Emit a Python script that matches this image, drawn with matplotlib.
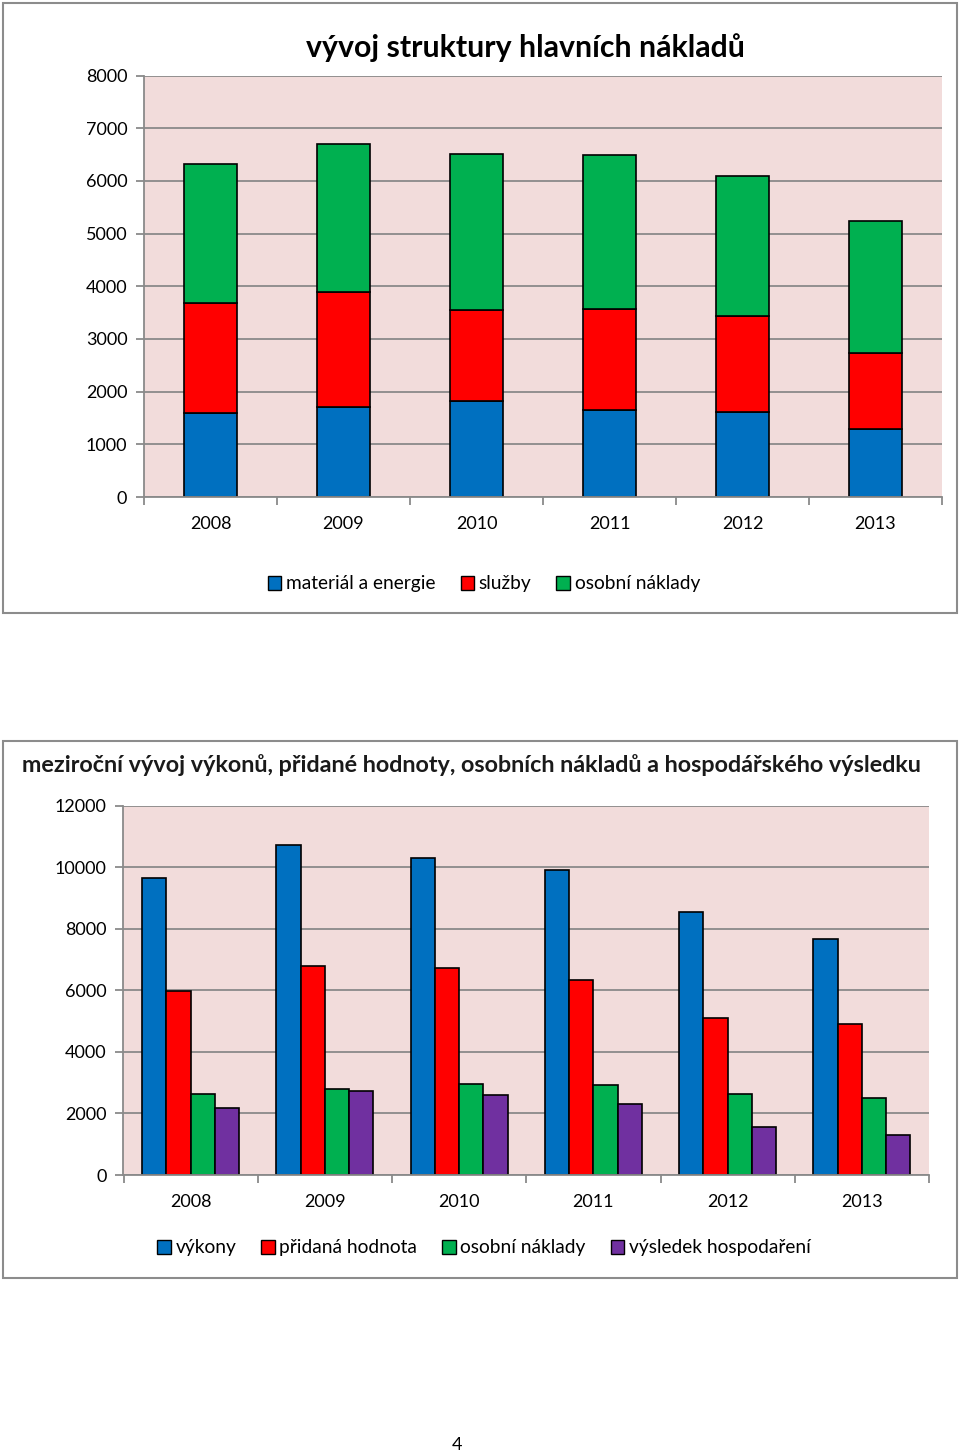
import numpy as np
import matplotlib
matplotlib.use('Agg')
import matplotlib.pyplot as plt
from matplotlib.patches import Rectangle, Patch

plt.rcParams['font.family'] = ['Lato', 'DejaVu Sans']

# data
roky = ['2008', '2009', '2010', '2011', '2012', '2013']

# horni graf - struktura nakladu
material = [1600, 1700, 1830, 1650, 1620, 1300]
sluzby = [2075, 2195, 1720, 1910, 1820, 1435]
osobni = [2645, 2800, 2955, 2930, 2655, 2500]

# dolni graf - mezirocni vyvoj
vykony = [9630, 10710, 10310, 9890, 8550, 7650]
pridana = [5960, 6800, 6730, 6330, 5110, 4910]
osobni2 = [2645, 2800, 2950, 2930, 2645, 2495]
vysledek = [2190, 2740, 2600, 2310, 1570, 1310]

modra = '#0070C0'
cervena = '#FF0000'
zelena = '#00B050'
fialova = '#7030A0'
ruzova = '#F2DCDB'
seda = '#8A8A8A'

W, H = 960, 1455
fig = plt.figure(figsize=(9.6, 14.55), dpi=100)


def px(x0, y0, x1, y1):
    # prevod pixelu na souradnice figury
    return [x0 / W, 1 - y1 / H, (x1 - x0) / W, (y1 - y0) / H]


# ramecky kolem grafu
for (x0, y0, x1, y1) in [(3, 3, 957, 613), (3, 741, 957, 1278)]:
    fig.patches.append(Rectangle((x0 / W, 1 - y1 / H), (x1 - x0) / W, (y1 - y0) / H,
                                 transform=fig.transFigure, fill=False,
                                 edgecolor='#8C8C8C', linewidth=1.5))


def styl_os(ax, ymax, krok):
    ax.set_facecolor(ruzova)
    ax.set_xlim(-0.5, len(roky) - 0.5)
    ax.set_ylim(0, ymax)
    ax.set_yticks(np.arange(0, ymax + 1, krok))
    ax.yaxis.grid(True, color=seda, linewidth=1.3)
    ax.set_axisbelow(True)
    for s in ['top', 'right']:
        ax.spines[s].set_visible(False)
    for s in ['left', 'bottom']:
        ax.spines[s].set_color(seda)
        ax.spines[s].set_linewidth(1.3)
    ax.set_xticks(np.arange(len(roky)))
    ax.set_xticklabels(roky)
    ax.set_xticks(np.arange(-0.5, len(roky)), minor=True)
    ax.tick_params(axis='x', which='major', length=0, pad=14, labelsize=13)
    ax.tick_params(axis='x', which='minor', length=6, color=seda, width=1.3)
    ax.tick_params(axis='y', length=6, color=seda, width=1.3, pad=6, labelsize=13)


# horni graf
ax1 = fig.add_axes(px(144, 75.5, 942, 497))
x = np.arange(len(roky))
dole = np.zeros(len(roky))
for hodnoty, barva in [(material, modra), (sluzby, cervena), (osobni, zelena)]:
    ax1.bar(x, hodnoty, 0.4, bottom=dole, color=barva, edgecolor='black', linewidth=1.2)
    dole = dole + np.array(hodnoty)
styl_os(ax1, 8000, 1000)
fig.text(525 / W, 1 - 48 / H, 'vývoj struktury hlavních nákladů', ha='center', va='center',
         fontsize=21.8, fontweight='bold')
fig.legend([Patch(facecolor=c, edgecolor='black') for c in [modra, cervena, zelena]],
           ['materiál a energie', 'služby', 'osobní náklady'],
           loc='center', bbox_to_anchor=(484 / W, 1 - 584 / H), ncol=3, frameon=False,
           fontsize=13.8, handlelength=0.7, handleheight=0.7, handletextpad=0.25,
           columnspacing=1.3)

# dolni graf
ax2 = fig.add_axes(px(123.5, 805.5, 929, 1175))
sirka = 0.181
for i, (hodnoty, barva) in enumerate([(vykony, modra), (pridana, cervena),
                                      (osobni2, zelena), (vysledek, fialova)]):
    ax2.bar(x + (i - 1.5) * sirka, hodnoty, sirka, color=barva, edgecolor='black', linewidth=1.2)
styl_os(ax2, 12000, 2000)
fig.text(471 / W, 1 - 765 / H,
         'meziroční vývoj výkonů, přidané hodnoty, osobních nákladů a hospodářského výsledku',
         ha='center', va='center', fontsize=16.8, fontweight='bold', color='#1a1a1a')
fig.legend([Patch(facecolor=c, edgecolor='black') for c in [modra, cervena, zelena, fialova]],
           ['výkony', 'přidaná hodnota', 'osobní náklady', 'výsledek hospodaření'],
           loc='center', bbox_to_anchor=(484 / W, 1 - 1248 / H), ncol=4, frameon=False,
           fontsize=13.8, handlelength=0.7, handleheight=0.7, handletextpad=0.25,
           columnspacing=1.3)

# cislo stranky
fig.text(457 / W, 1 - 1445 / H, '4', ha='center', va='center', fontsize=13)

fig.savefig('out.png', dpi=100)
